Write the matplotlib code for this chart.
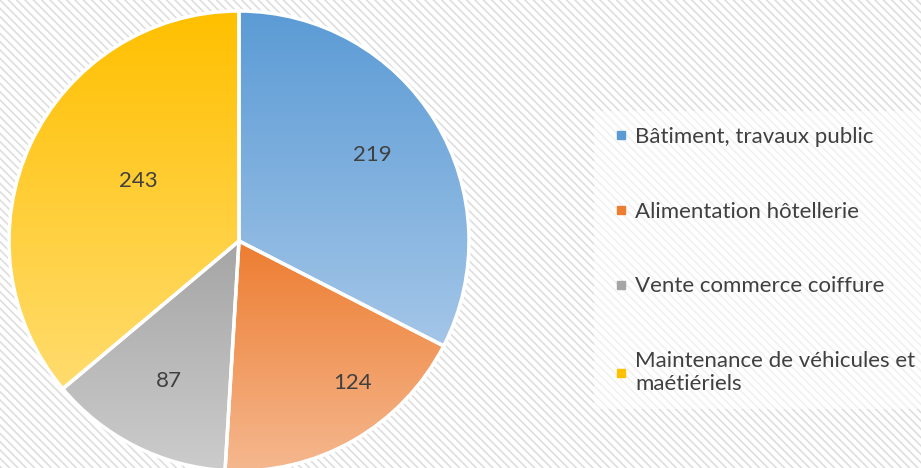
import numpy as np
import matplotlib
matplotlib.use('Agg')
import matplotlib.pyplot as plt
from matplotlib.patches import Rectangle
from matplotlib.lines import Line2D
from matplotlib.colors import LinearSegmentedColormap

# data
categories = ['Bâtiment, travaux public', 'Alimentation hôtellerie',
              'Vente commerce coiffure', 'Maintenance de véhicules et\nmaétiériels']
values = [219, 124, 87, 243]
top_colors = ['#5B9BD5', '#ED7D31', '#A5A5A5', '#FFC000']
bottom_colors = ['#A4C6E8', '#F5B88F', '#CCCCCC', '#FFDC6E']
# data label placement (fraction of radius, angle shift in degrees)
label_radius = [0.69, 0.79, 0.68, 0.51]
label_shift = [1.5, 9, 0, -6]

plt.rcParams['font.family'] = ['Lato', 'DejaVu Sans']
plt.rcParams['hatch.linewidth'] = 1.2

W, H = 921, 468
fig = plt.figure(figsize=(W / 100, H / 100), dpi=100)
fig.patch.set_facecolor('white')

# hatched background
bg = Rectangle((0, 0), 1, 1, transform=fig.transFigure, facecolor='white',
               edgecolor='#dedede', hatch='\\\\\\\\', linewidth=0, zorder=-5)
fig.patches.append(bg)

ax = fig.add_axes([0, 0, 1, 1])
ax.patch.set_alpha(0)
cx, cy, R = 239, H - 241, 230
total = sum(values)

wedges, texts, autotexts = ax.pie(
    values, startangle=90, counterclock=False, center=(cx, cy), radius=R,
    autopct=lambda p: f'{p * total / 100:.0f}', pctdistance=0.7,
    textprops=dict(fontsize=16, color='#404040'),
    wedgeprops=dict(edgecolor='white', linewidth=2.5))

# vertical gradient fill for each slice
for w, c1, c2 in zip(wedges, top_colors, bottom_colors):
    ext = w.get_path().get_extents()
    cmap = LinearSegmentedColormap.from_list('g', [c2, c1])
    grad = np.linspace(0, 1, 256).reshape(-1, 1)
    im = ax.imshow(grad, cmap=cmap, origin='lower', aspect='auto',
                   extent=(ext.x0, ext.x1, ext.y0, ext.y1), zorder=1)
    im.set_clip_path(w)
    w.set_facecolor('none')
    w.set_zorder(2)

for t, w, r, s in zip(autotexts, wedges, label_radius, label_shift):
    ang = np.deg2rad((w.theta1 + w.theta2) / 2 + s)
    t.set_position((cx + r * R * np.cos(ang), cy + r * R * np.sin(ang)))
    t.set_zorder(3)

ax.set_xlim(0, W)
ax.set_ylim(0, H)
ax.set_aspect('equal')
ax.axis('off')

handles = [Line2D([], [], marker='s', linestyle='none', markersize=6,
                  markerfacecolor=c, markeredgecolor=c) for c in top_colors]
leg = fig.legend(handles, categories, loc='upper left',
                 bbox_to_anchor=(583 / W, 1 - 100 / H), frameon=True,
                 fontsize=16, labelspacing=2.47, handletextpad=0.15,
                 handlelength=1.0, borderpad=0.7, labelcolor='#404040')
leg.get_frame().set_facecolor('white')
leg.get_frame().set_alpha(0.6)
leg.get_frame().set_edgecolor('none')
leg.get_frame().set_boxstyle('square', pad=0)
for t in leg.get_texts():
    t.set_linespacing(1.15)

fig.savefig('out.png', dpi=100)
